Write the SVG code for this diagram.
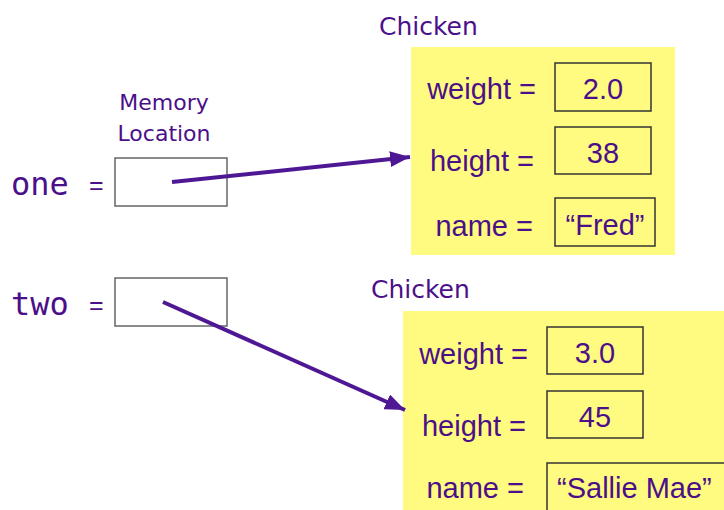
<svg xmlns="http://www.w3.org/2000/svg" width="724" height="510" viewBox="0 0 724 510">
<style>
.t{font-family:"Liberation Sans",Arial,sans-serif;font-size:29px;fill:#4B1089}
.v{font-family:"Liberation Sans",Arial,sans-serif;font-size:29px;fill:#4B1089;text-anchor:middle}
.h{font-family:"DejaVu Sans",Verdana,sans-serif;font-size:25px;fill:#4B1089}
.m{font-family:"DejaVu Sans",Verdana,sans-serif;font-size:22px;fill:#4B1089;text-anchor:middle}
.var{font-family:"DejaVu Sans Mono",monospace;font-size:32px;fill:#4B1089}
.eq{font-family:"Liberation Sans",Arial,sans-serif;font-size:25px;fill:#4B1089}
.obj{fill:#FFFB80;stroke:none}
.fld{fill:#FFFB80;stroke:#333;stroke-width:1.5}
.ref{fill:#fff;stroke:#666;stroke-width:1.5}
.arr{stroke:#4E1894;stroke-width:4;fill:none;marker-end:url(#ah)}
</style>
<defs>
<marker id="ah" markerUnits="userSpaceOnUse" markerWidth="20" markerHeight="16" viewBox="0 0 20 16" refX="20" refY="8" orient="auto">
<path d="M0,0 L20,8 L0,16 Z" fill="#4E1894"/>
</marker>
</defs>

<g id="memory-label">
<text class="m" x="164" y="110">Memory</text>
<text class="m" x="164" y="141">Location</text>
</g>

<g id="one">
<text class="var" x="11" y="195">one</text>
<text class="eq" x="89" y="194">=</text>
<rect class="ref" x="115" y="158" width="112" height="48"/>
</g>

<g id="two">
<text class="var" x="11" y="315">two</text>
<text class="eq" x="89" y="314">=</text>
<rect class="ref" x="115" y="278" width="112" height="48"/>
</g>

<g id="chicken1">
<text class="h" x="379" y="35">Chicken</text>
<rect class="obj" x="411" y="47" width="264" height="208"/>
<text class="t" x="536" y="99" text-anchor="end">weight =</text>
<rect class="fld" x="555" y="63" width="96" height="48"/>
<text class="v" x="603" y="99">2.0</text>
<text class="t" x="534" y="171" text-anchor="end">height =</text>
<rect class="fld" x="555" y="127" width="96" height="47"/>
<text class="v" x="603" y="163">38</text>
<text class="t" x="533" y="236" text-anchor="end">name =</text>
<rect class="fld" x="555" y="198" width="100" height="48"/>
<text class="v" x="605" y="235">“Fred”</text>
</g>

<g id="chicken2">
<text class="h" x="371" y="298">Chicken</text>
<rect class="obj" x="403" y="311" width="330" height="210"/>
<text class="t" x="528" y="364" text-anchor="end">weight =</text>
<rect class="fld" x="547" y="327" width="96" height="47"/>
<text class="v" x="595" y="363">3.0</text>
<text class="t" x="526" y="436" text-anchor="end">height =</text>
<rect class="fld" x="547" y="391" width="96" height="47"/>
<text class="v" x="595" y="427">45</text>
<text class="t" x="524" y="498" text-anchor="end">name =</text>
<rect class="fld" x="547" y="463" width="190" height="60"/>
<text class="t" x="557" y="498">“Sallie Mae”</text>
</g>

<g id="connectors">
<line class="arr" x1="172" y1="182" x2="410" y2="157"/>
<line class="arr" x1="163" y1="302" x2="405" y2="410"/>
</g>
</svg>
